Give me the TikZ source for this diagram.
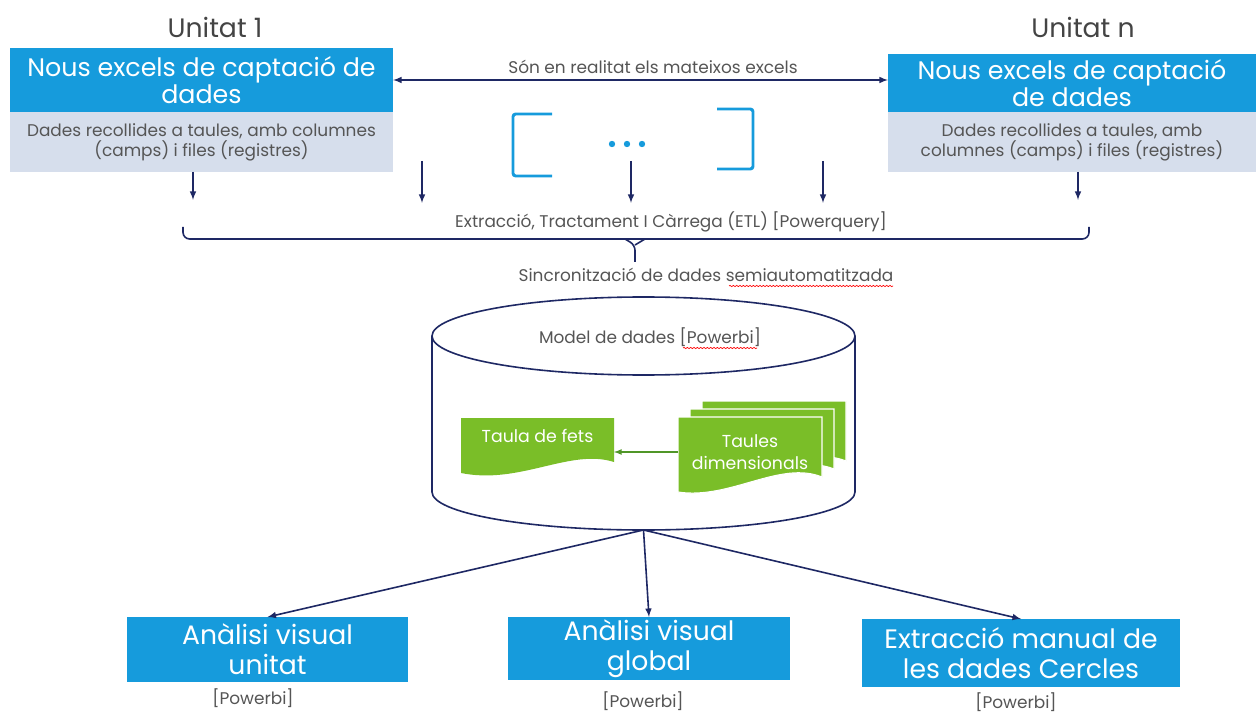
\documentclass[tikz,border=0pt]{standalone}
\usepackage{fontspec}
\setmainfont{Poppins}
\usetikzlibrary{decorations.pathmorphing}
\begin{document}
\begin{tikzpicture}[x=0.75pt,y=-0.75pt]
            \definecolor{box_color}{RGB}{22,155,220}
            \definecolor{rec_color}{RGB}{214,222,236}
            \definecolor{line_color}{RGB}{30,40,100}
            \definecolor{doc_color}{RGB}{122,190,40}
            \definecolor{arrow_color}{RGB}{80,150,40}
            \definecolor{text_color}{RGB}{85,85,85}
            \tikzstyle{every node} = [inner sep=0pt, outer sep=0pt, align=center]
            \tikzstyle{head} = [fill=box_color, text=white, font=\fontsize{19}{20.5}\selectfont]
            \tikzstyle{outbox} = [fill=box_color, text=white, font=\fontsize{20}{22.5}\selectfont]
            \tikzstyle{rec} = [fill=rec_color, text=text_color, font=\fontsize{12.7}{15}\selectfont]
            \tikzstyle{ann} = [text=text_color, font=\fontsize{12.7}{15}\selectfont]
            \tikzstyle{unit} = [text=text_color!80!black, font=\fontsize{20}{22}\selectfont]
            \tikzstyle{doc} = [text=white, font=\fontsize{13}{16.5}\selectfont]
            \tikzstyle{link} = [line_color, line width=1.2pt]
            \useasboundingbox (0,0) rectangle (1258,713);
            \node[unit] (u1) at (215,27) {Unitat 1};
            \node[unit] (un) at (1083,27) {Unitat n};
            \node[head, minimum width=383*0.75pt, minimum height=64*0.75pt] (box1) at (201.5,80) {Nous excels de captació de\\dades};
            \node[rec, minimum width=383*0.75pt, minimum height=60*0.75pt] (rec1) at (201.5,142) {Dades recollides a taules, amb columnes\\(camps) i files (registres)};
            \node[head, minimum width=368*0.75pt, minimum height=58*0.75pt] (boxn) at (1072,83) {Nous excels de captació\\de dades};
            \node[rec, minimum width=368*0.75pt, minimum height=60*0.75pt] (recn) at (1072,142) {Dades recollides a taules, amb\\columnes (camps) i files (registres)};
            \node[ann] (same) at (653,67) {Són en realitat els mateixos excels};
            \draw[link, latex-latex] (box1.east) -- (box1.east -| boxn.west);
            % brackets and dots
            \draw[box_color, line width=2.2pt, rounded corners=2pt] (552,114) -- (513,114) -- (513,176) -- (552,176);
            \draw[box_color, line width=2.2pt, rounded corners=2pt] (717,109) -- (753,109) -- (753,169) -- (717,169);
            \foreach \x in {612,627,642}
                \fill[box_color] (\x,144) circle (2.4pt);
            % down arrows
            \coordinate (e0) at (193,200);
            \coordinate (en) at (1078,200);
            \draw[link, -latex] (rec1.south -| e0) -- (e0);
            \draw[link, -latex] (recn.south -| en) -- (en);
            \foreach \x [count=\i] in {422,631,823} {
                \coordinate (s\i) at (\x,161);
                \coordinate (e\i) at (\x,203);
                \draw[link, -latex] (s\i) -- (e\i);
            }
            \node[ann] (etl) at (671,222) {Extracció, Tractament I Càrrega (ETL) [Powerquery]};
            % brace
            \coordinate (tip) at (635,262);
            \draw[link, rounded corners=5pt] (183,227) -- (183,239) -- (1089,239) -- (1089,227);
            \draw[link, rounded corners=4pt] (625,239) -- (635,245) -- (tip);
            \draw[link, rounded corners=4pt] (645,239) -- (635,245);
            \node[ann] (sync) at (706,275) {Sincronització de dades semiautomatitzada};
            \draw[red, line width=0.5pt, decorate, decoration={snake, amplitude=0.5pt, segment length=2.5pt}] (729,286) -- (893,286);
            % cylinder
            \draw[link, fill=white] (432,336) -- (432,492) arc[start angle=180, end angle=0, x radius=211.5, y radius=38] -- (855,336);
            \draw[link] (643.5,336) ellipse[x radius=211.5, y radius=39];
            \coordinate (cb) at (643.5,530);
            \node[ann] (model) at (650,337) {Model de dades [Powerbi]};
            \draw[red, line width=0.5pt, decorate, decoration={snake, amplitude=0.5pt, segment length=2.5pt}] (683,348) -- (757,348);
            % green tables
            \fill[doc_color] (461,418) -- (614,418) -- (614,462) .. controls (570,448) and (520,485) .. (461,473) -- cycle;
            \foreach \x/\y in {702/401, 690/409, 678/417}
                \filldraw[fill=doc_color, draw=white, line width=0.8pt] (\x,\y) -- (\x+144,\y) -- (\x+144,\y+60) .. controls (\x+102,\y+43) and (\x+52,\y+83) .. (\x,\y+75) -- cycle;
            \node[doc, minimum width=153*0.75pt, minimum height=34*0.75pt] (fets) at (537.5,436) {Taula de fets};
            \node[doc, minimum width=144*0.75pt, minimum height=56*0.75pt] (dims) at (750,452) {Taules\\dimensionals};
            \draw[arrow_color, line width=1pt, -latex] (dims.west) -- (dims.west -| fets.east);
            % outputs
            \node[outbox, minimum width=281*0.75pt, minimum height=65*0.75pt] (b1) at (267.5,649.5) {Anàlisi visual\\unitat};
            \node[outbox, minimum width=282*0.75pt, minimum height=63*0.75pt] (b2) at (649,648.5) {Anàlisi visual\\global};
            \node[outbox, minimum width=318*0.75pt, minimum height=68*0.75pt] (b3) at (1021,653) {Extracció manual de\\les dades Cercles};
            \node[ann] (p1) at (253,698) {[Powerbi]};
            \node[ann] (p2) at (643,701) {[Powerbi]};
            \node[ann] (p3) at (1016,702) {[Powerbi]};
            \draw[link, -latex] (cb) -- (b1.north);
            \draw[link, -latex] (cb) -- (b2.north);
            \draw[link, -latex] (cb) -- (b3.north);
        \end{tikzpicture}
\end{document}
